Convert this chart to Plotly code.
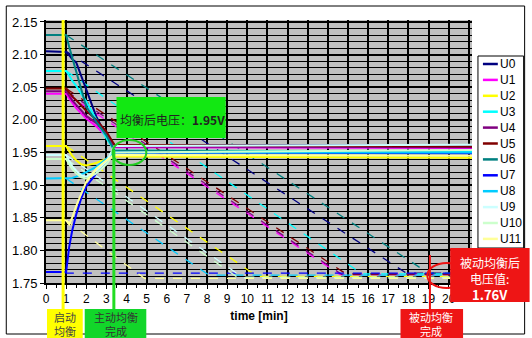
import plotly.graph_objects as go

# ---- data -------------------------------------------------------------
names = ["U0", "U1", "U2", "U3", "U4", "U5", "U6", "U7", "U8", "U9", "U10", "U11"]
colors = ["#000080", "#FF00FF", "#FFFF00", "#00FFFF", "#800080", "#800000",
          "#008080", "#0000FF", "#00CCFF", "#CCFFFF", "#CCFFCC", "#FFFF99"]

# sample times of the measured (active balancing) curves, min
t_meas = [0, 1.0, 1.15, 1.3, 1.5, 1.75, 2.0, 2.5, 3.0, 3.4, 21.2]

# measured cell voltages, V
u_meas = {
    "U0":  [2.105, 2.104, 2.099, 2.093, 2.088, 2.068, 2.045, 2.005, 1.975, 1.962, 1.961],
    "U1":  [2.040, 2.040, 2.033, 2.026, 2.018, 2.010, 2.002, 1.990, 1.975, 1.958, 1.957],
    "U2":  [1.960, 1.960, 1.952, 1.945, 1.938, 1.932, 1.930, 1.934, 1.940, 1.944, 1.942],
    "U3":  [2.075, 2.075, 2.068, 2.060, 2.052, 2.040, 2.028, 2.000, 1.972, 1.953, 1.951],
    "U4":  [2.044, 2.044, 2.037, 2.030, 2.023, 2.014, 2.006, 1.995, 1.979, 1.959, 1.958],
    "U5":  [2.048, 2.048, 2.042, 2.036, 2.030, 2.022, 2.014, 2.000, 1.982, 1.962, 1.959],
    "U6":  [2.130, 2.130, 2.112, 2.096, 2.075, 2.047, 2.020, 1.997, 1.976, 1.953, 1.949],
    "U7":  [1.767, 1.767, 1.805, 1.830, 1.855, 1.880, 1.898, 1.918, 1.936, 1.950, 1.949],
    "U8":  [1.910, 1.910, 1.910, 1.911, 1.913, 1.916, 1.920, 1.928, 1.940, 1.950, 1.950],
    "U9":  [1.946, 1.946, 1.937, 1.929, 1.922, 1.915, 1.913, 1.922, 1.936, 1.960, 1.962],
    "U10": [1.940, 1.940, 1.932, 1.925, 1.918, 1.912, 1.910, 1.918, 1.932, 1.950, 1.954],
    "U11": [1.846, 1.846, 1.840, 1.850, 1.868, 1.888, 1.905, 1.925, 1.938, 1.946, 1.945],
}

# passive balancing (dashed): starts at t=1 from the initial voltage,
# reaches its final voltage at dash_end_t and stays there
dash_start_t = 1.0
dash_end_t = [17.9, 14.6, 10.5, 15.7, 14.7, 14.9, 19.0, 1.0, 8.1, 9.8, 9.5, 4.9]
dash_floor = [1.765, 1.763, 1.760, 1.764, 1.763, 1.764, 1.765, 1.765, 1.762, 1.758, 1.759, 1.757]
t_last = 21.2

# x tick labels (the last grid line at 21 min carries no label)
x_ticks = list(range(0, 22))
x_tick_text = [str(v) for v in range(0, 21)] + [""]

# event times, min
t_start = 0.85        # 启动均衡
t_active_done = 3.37  # 主动均衡完成
t_passive_done = 19.07  # 被动均衡完成

# ---- geometry helpers (pixel -> paper) -------------------------------
W, H = 532, 338
ML, MR, MT, MB = 43, 60, 20, 55
PW, PH = W - ML - MR, H - MT - MB


def px(x):
    return (x - ML) / PW


def py(y):
    return (H - MB - y) / PH


FONT = "Liberation Sans, Arial, sans-serif"
CJK = "Noto Sans CJK SC, Liberation Sans, sans-serif"

fig = go.Figure()

# dashed passive-balancing projections
for i, n in enumerate(names):
    v0 = u_meas[n][0]
    fig.add_trace(go.Scatter(
        x=[dash_start_t, dash_end_t[i], t_last],
        y=[v0, dash_floor[i], dash_floor[i]],
        mode="lines", line=dict(color=colors[i], width=1.3, dash="dash"),
        showlegend=False, hoverinfo="skip"))

# measured curves
for i, n in enumerate(names):
    fig.add_trace(go.Scatter(
        x=t_meas, y=u_meas[n], name=n, mode="lines",
        line=dict(color=colors[i], width=2), showlegend=False))

shapes = []
annotations = []

# outer frame
shapes.append(dict(type="rect", xref="paper", yref="paper",
                   x0=px(3), x1=px(525), y0=py(334), y1=py(6),
                   line=dict(color="black", width=1), layer="below"))

# custom legend
shapes.append(dict(type="rect", xref="paper", yref="paper",
                   x0=px(478), x1=px(524), y0=py(248), y1=py(56),
                   line=dict(color="black", width=1), fillcolor="white"))
for i, n in enumerate(names):
    yy = 64 + 15.9 * i
    shapes.append(dict(type="line", xref="paper", yref="paper",
                       x0=px(483), x1=px(498), y0=py(yy), y1=py(yy),
                       line=dict(color=colors[i], width=2.5)))
    annotations.append(dict(xref="paper", yref="paper", x=px(498.5), y=py(yy),
                            text=n, showarrow=False, xanchor="left", yanchor="middle",
                            font=dict(family=FONT, size=12, color="black")))

# event markers
BOT = py(309)
shapes += [
    dict(type="line", xref="x", yref="paper", x0=t_start, x1=t_start, y0=BOT, y1=1,
         line=dict(color="#FFFF00", width=3)),
    dict(type="line", xref="x", yref="paper", x0=t_active_done, x1=t_active_done,
         y0=BOT, y1=py(150), line=dict(color="#22DD22", width=3)),
    dict(type="line", xref="x", yref="paper", x0=t_passive_done, x1=t_passive_done,
         y0=BOT, y1=py(255), line=dict(color="#EE1111", width=2)),
    dict(type="circle", xref="paper", yref="paper", x0=px(110), x1=px(144),
         y0=py(165), y1=py(140), line=dict(color="#22CC22", width=2)),
    dict(type="circle", xref="paper", yref="paper", x0=px(427), x1=px(466),
         y0=py(288), y1=py(263), line=dict(color="#EE1111", width=2)),
]


def box(x0, x1, y0, y1, fill):
    shapes.append(dict(type="rect", xref="paper", yref="paper",
                       x0=px(x0), x1=px(x1), y0=py(y1), y1=py(y0),
                       line=dict(width=0), fillcolor=fill))


def label(x, y, text, color, size=12):
    annotations.append(dict(xref="paper", yref="paper", x=px(x), y=py(y), text=text,
                            showarrow=False, xanchor="center", yanchor="middle",
                            borderpad=0,
                            font=dict(family=CJK, size=size, color=color)))


box(44, 80, 309, 338, "#FFFF00")
label(62, 324, "启动<br>均衡", "#444444", 11)

box(82, 144, 309, 338, "#12D62A")
label(113, 324, "主动均衡<br>完成", "#333333", 11)

box(114, 224, 97, 138, "#12E812")
label(170, 119, "均衡后电压：<b>1.95V</b>", "#222222", 12)

box(400, 463, 309, 338, "#EE1515")
label(431, 324, "被动均衡<br>完成", "white", 11)

box(450, 530, 248, 302, "#EE1515")
label(490, 262, "被动均衡后", "white")
label(490, 278, "电压值:", "white")
label(490, 294, "<b>1.76V</b>", "white", 13)

fig.update_layout(
    width=W, height=H,
    margin=dict(l=ML, r=MR, t=MT, b=MB),
    paper_bgcolor="white", plot_bgcolor="#C0C0C0",
    showlegend=False,
    font=dict(family=FONT, size=12, color="black"),
    shapes=shapes, annotations=annotations,
    xaxis=dict(range=[0, 21.16], tickmode="array", tickvals=x_ticks, ticktext=x_tick_text,
               showgrid=True, gridcolor="black", gridwidth=2, zeroline=False,
               showline=True, linecolor="black", linewidth=2,
               ticks="outside", ticklen=4, tickcolor="black",
               minor=dict(dtick=0.5, ticks="outside", ticklen=3, tickcolor="black",
                          showgrid=False),
               tickfont=dict(size=12),
               title=dict(text="<b>time [min]</b>", font=dict(size=12), standoff=6)),
    yaxis=dict(range=[1.75, 2.153], tick0=1.75, dtick=0.05, tickformat=".2f",
               showgrid=True, gridcolor="black", gridwidth=2, zeroline=False,
               showline=True, linecolor="black", linewidth=2,
               ticks="outside", ticklen=4, tickcolor="black",
               minor=dict(dtick=0.01, showgrid=True, gridcolor="black", gridwidth=1.3),
               tickfont=dict(size=13)),
)

fig.write_html("out.html")
